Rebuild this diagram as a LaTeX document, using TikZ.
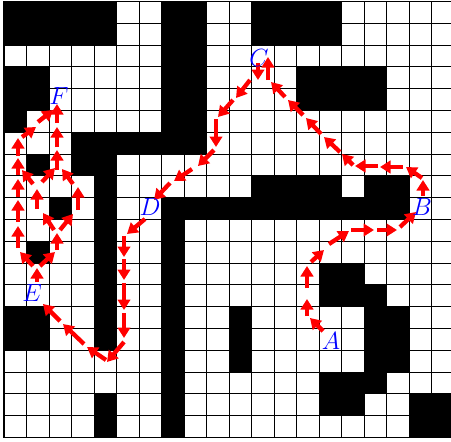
\documentclass[tikz,border=0pt]{standalone}
\usetikzlibrary{arrows.meta}
\begin{document}
\begin{tikzpicture}[x=1pt,y=-1pt,>={Triangle[length=10.5pt,width=12.5pt]},
  ar/.style={->,line width=4.3pt,red},
  lbl/.style={blue,font=\Huge,inner sep=0pt}]
\useasboundingbox (0,0) rectangle (451,442);
% maze: 20x20 cells, top-left cell is (0,0)
\begin{scope}[shift={(4,1.4)},x=22.5pt,y=-21.8pt]
\foreach \a/\b/\c/\d in {0/0/4/1,7/0/8/5,11/0/14/1,0/3/1/4,0/5/0/5,13/3/16/4,3/6/8/6,3/7/4/7,1/7/1/7,
  4/8/4/15,11/8/14/8,16/8/17/8,7/9/17/9,2/9/2/9,7/10/7/19,1/11/1/11,14/12/15/13,16/13/16/13,0/14/1/15,
  10/14/10/16,16/14/17/16,14/17/16/17,14/18/15/18,4/18/4/19,18/18/19/19}
  \fill (\a,\b) rectangle (\c+1,\d+1);
\foreach \i in {0,...,20}{\draw[line width=0.8pt] (\i,0)--(\i,20);\draw[line width=0.8pt] (0,\i)--(20,\i);}
\draw[line width=1.6pt] (0,0) rectangle (20,20);
\end{scope}
% A -> B
\draw[ar](323,331)--(310,318);\draw[ar](307,316)--(307,299);\draw[ar](307,288)--(307,266);\draw[ar](311,262)--(324,250);
\draw[ar](329,244)--(349,231);\draw[ar](351,230)--(374,230);\draw[ar](377,230)--(397,230);\draw[ar](400,227)--(416,212);
% B -> C
\draw[ar](423,196)--(423,180);\draw[ar](422,178)--(406,167);\draw[ar](403,167)--(380,167);\draw[ar](378,166)--(355,166);
\draw[ar](353,165)--(342,154);\draw[ar](340,152)--(324,137);\draw[ar](321,134)--(306,118);\draw[ar](303,115)--(288,100);
\draw[ar](285,97)--(271,82);\draw[ar](268,80)--(268,57);
% C -> D
\draw[ar](258,63)--(258,80);\draw[ar](250,80)--(236,98);\draw[ar](233,100)--(218,117);\draw[ar](216,119)--(216,147);
\draw[ar](214,150)--(198,166);\draw[ar](192,169)--(174,181);\draw[ar](170,183)--(154,200);
% D -> E
\draw[ar](145,219)--(127,234);\draw[ar](124,236)--(124,257);\draw[ar](124,259)--(124,280);\draw[ar](124,283)--(124,310);
\draw[ar](124,313)--(124,338);\draw[ar](124,342)--(107,362);\draw[ar](106,360)--(87,347);\draw[ar](84,344)--(63,324);
\draw[ar](60,321)--(43,304);
% E -> F
\draw[ar](37,282)--(37,268);\draw[ar](33,266)--(20,252);\draw[ar](40,266)--(55,252);
\draw[ar](18,248)--(18,226);\draw[ar](18,222)--(18,200);\draw[ar](18,197)--(18,179);\draw[ar](18,175)--(18,158);
\draw[ar](18,156)--(18,138);\draw[ar](22,137)--(36,127);\draw[ar](38,122)--(53,110);
\draw[ar](57,250)--(57,233);\draw[ar](54,230)--(43,213);\draw[ar](60,230)--(73,214);
\draw[ar](37,209)--(37,189);\draw[ar](33,184)--(22,170);\draw[ar](42,182)--(55,168);
\draw[ar](78,210)--(78,187);\draw[ar](73,184)--(62,169);
\draw[ar](57,170)--(57,150);\draw[ar](57,147)--(57,127);\draw[ar](57,123)--(57,104);
% labels
\node[lbl](A) at (331,341){$A$};
\node[lbl](B) at (422,207){$B$};
\node[lbl](C) at (259,58){$C$};
\node[lbl](D) at (150,207){$D$};
\node[lbl](E) at (32,293){$E$};
\node[lbl](F) at (59,96){$F$};
\end{tikzpicture}
\end{document}
